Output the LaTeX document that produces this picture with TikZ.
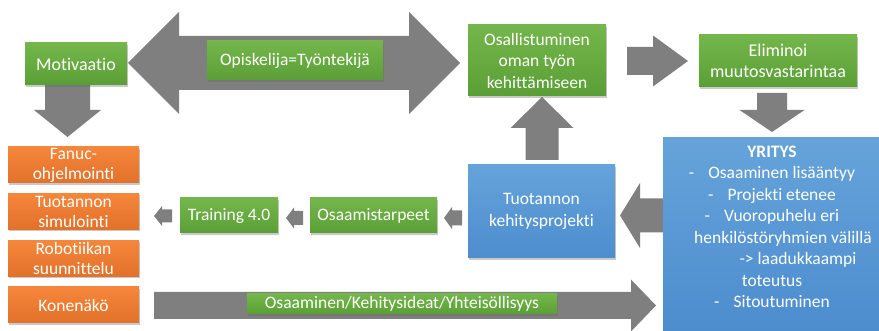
\documentclass[tikz,border=0pt]{standalone}
\usepackage{fontspec}
\setmainfont[Ligatures=NoCommon]{Carlito}
\usetikzlibrary{calc,shadows}
\definecolor{grnT}{HTML}{74B64B}
\definecolor{grnB}{HTML}{5A9F36}
\definecolor{orT}{HTML}{F5863A}
\definecolor{orB}{HTML}{E2712A}
\definecolor{bluT}{HTML}{65A3DA}
\definecolor{bluB}{HTML}{4D8DCE}
\definecolor{arrgrey}{HTML}{7F7F7F}
\pgfdeclarelayer{back}
\pgfdeclarelayer{arrl}
\pgfsetlayers{back,arrl,main}
\newcommand{\blockarr}[5]{% tail, tip, shaft half, head half, head length
  \coordinate (bah) at ($(#2)!#5!(#1)$);
  \fill[arrfill] ($(#1)!#3!90:(#2)$) -- ($(bah)!#3!90:(#2)$) -- ($(bah)!#4!90:(#2)$) -- (#2)
    -- ($(bah)!#4!-90:(#2)$) -- ($(bah)!#3!-90:(#2)$) -- ($(#1)!#3!-90:(#2)$) -- cycle;
}
\newcommand{\dblarr}[5]{% tip1, tip2, shaft half, head half, head length
  \coordinate (bh1) at ($(#1)!#5!(#2)$);
  \coordinate (bh2) at ($(#2)!#5!(#1)$);
  \fill[arrfill] (#1) -- ($(bh1)!#4!90:(#2)$) -- ($(bh1)!#3!90:(#2)$) -- ($(bh2)!#3!-90:(#1)$)
    -- ($(bh2)!#4!-90:(#1)$) -- (#2) -- ($(bh2)!#4!90:(#1)$) -- ($(bh2)!#3!90:(#1)$)
    -- ($(bh1)!#3!-90:(#2)$) -- ($(bh1)!#4!-90:(#2)$) -- cycle;
}
\tikzset{
  arrfill/.style={fill=arrgrey},
  boxbase/.style={rectangle, inner sep=0pt, text=white, align=center,
    font=\fontsize{17.5}{21.5}\selectfont,
    drop shadow={shadow xshift=1pt, shadow yshift=-2pt, opacity=0.35, fill=black!60}},
  gbox/.style={boxbase, top color=grnT, bottom color=grnB},
  obox/.style={boxbase, top color=orT, bottom color=orB, minimum width=131pt, minimum height=36pt,
    font=\fontsize{17.5}{20}\selectfont},
  bbox/.style={boxbase, top color=bluT, bottom color=bluB},
}
\begin{document}
\begin{tikzpicture}[x=1pt,y=-1pt]
\begin{pgfonlayer}{back}
\fill[white] (0,0) rectangle (879,331);
\end{pgfonlayer}
\useasboundingbox (0,0) rectangle (879,331);

% boxes
\node[gbox, minimum width=102pt, minimum height=42pt, font=\fontsize{18}{21.5}\selectfont] (moti) at (76,64) {Motivaatio};
\node[gbox, minimum width=176pt, minimum height=39pt] (opis) at (295,60.5) {Opiskelija=Työntekijä};
\node[gbox, minimum width=138pt, minimum height=71pt] (osal) at (537,60.5) {Osallistuminen\\oman työn\\kehittämiseen};
\node[gbox, minimum width=158pt, minimum height=52pt, font=\fontsize{18}{21.5}\selectfont] (elim) at (778,61) {Eliminoi\\muutosvastarintaa};
\node[bbox, minimum width=216pt, minimum height=193pt] (yri) at (771,234.5) {};
\node[text=white, align=center, inner sep=0pt, font=\fontsize{17.5}{21.5}\selectfont] (yritext) at (772,227)
  {\textbf{YRITYS}\\
   -\hspace{14pt}Osaaminen lisääntyy\\
   -\hspace{14pt}Projekti etenee\\
   -\hspace{14pt}Vuoropuhelu eri\\
   \hspace*{22pt}henkilöstöryhmien välillä\\
   \hspace*{52pt}-> laadukkaampi\\
   toteutus\\
   -\hspace{14pt}Sitoutuminen};
\node[bbox, minimum width=147pt, minimum height=93pt] (tuo) at (541.5,211.5) {Tuotannon\\kehitysprojekti};
\node[gbox, minimum width=127pt, minimum height=35pt] (osaa) at (373.5,215.5) {Osaamistarpeet};
\node[gbox, minimum width=98pt, minimum height=35pt] (train) at (229,215.5) {Training 4.0};
\node[obox] (fanuc) at (73.5,165) {Fanuc-\\ohjelmointi};
\node[obox] (simu) at (73.5,211.5) {Tuotannon\\simulointi};
\node[obox] (robo) at (73.5,258.5) {Robotiikan\\suunnittelu};
\node[obox] (kone) at (73.5,305) {Konenäkö};
\node[gbox, minimum width=310pt, minimum height=20pt, font=\fontsize{17.5}{18}\selectfont] (yht) at (402,304) {Osaaminen/Kehitysideat/Yhteisöllisyys};

% arrow end points
\coordinate (dA) at (128,63);
\coordinate (dB) at (460,63);
\coordinate (m1) at (67.5,85);
\coordinate (m2) at (67.5,137);
\coordinate (e1) at (627,61);
\coordinate (e2) at (688,61);
\coordinate (y1) at (772,93);
\coordinate (y2) at (772,132);
\coordinate (u1) at (542,160);
\coordinate (u2) at (542,97);
\coordinate (r1) at (663,215.5);
\coordinate (r2) at (620,215.5);
\coordinate (s1) at (462,218);
\coordinate (s2) at (444,218);
\coordinate (t1) at (303,218);
\coordinate (t2) at (286,218);
\coordinate (v1) at (172,216);
\coordinate (v2) at (154,216);
\coordinate (b1) at (154,305.5);
\coordinate (b2) at (656,305.5);

\begin{pgfonlayer}{arrl}
\dblarr{dA}{dB}{27pt}{51pt}{51pt}
\blockarr{m1}{m2}{22.5pt}{33.5pt}{27pt}
\blockarr{e1}{e2}{14pt}{25.5pt}{35pt}
\blockarr{y1}{y2}{15pt}{32.5pt}{22pt}
\blockarr{u1}{u2}{16.5pt}{31.5pt}{31pt}
\blockarr{r1}{r2}{17pt}{32.5pt}{20pt}
\blockarr{s1}{s2}{7.5pt}{11pt}{8pt}
\blockarr{t1}{t2}{7pt}{10.5pt}{8pt}
\blockarr{v1}{v2}{6.5pt}{10pt}{8pt}
\blockarr{b1}{b2}{13.5pt}{26pt}{25pt}
\end{pgfonlayer}
\end{tikzpicture}
\end{document}
